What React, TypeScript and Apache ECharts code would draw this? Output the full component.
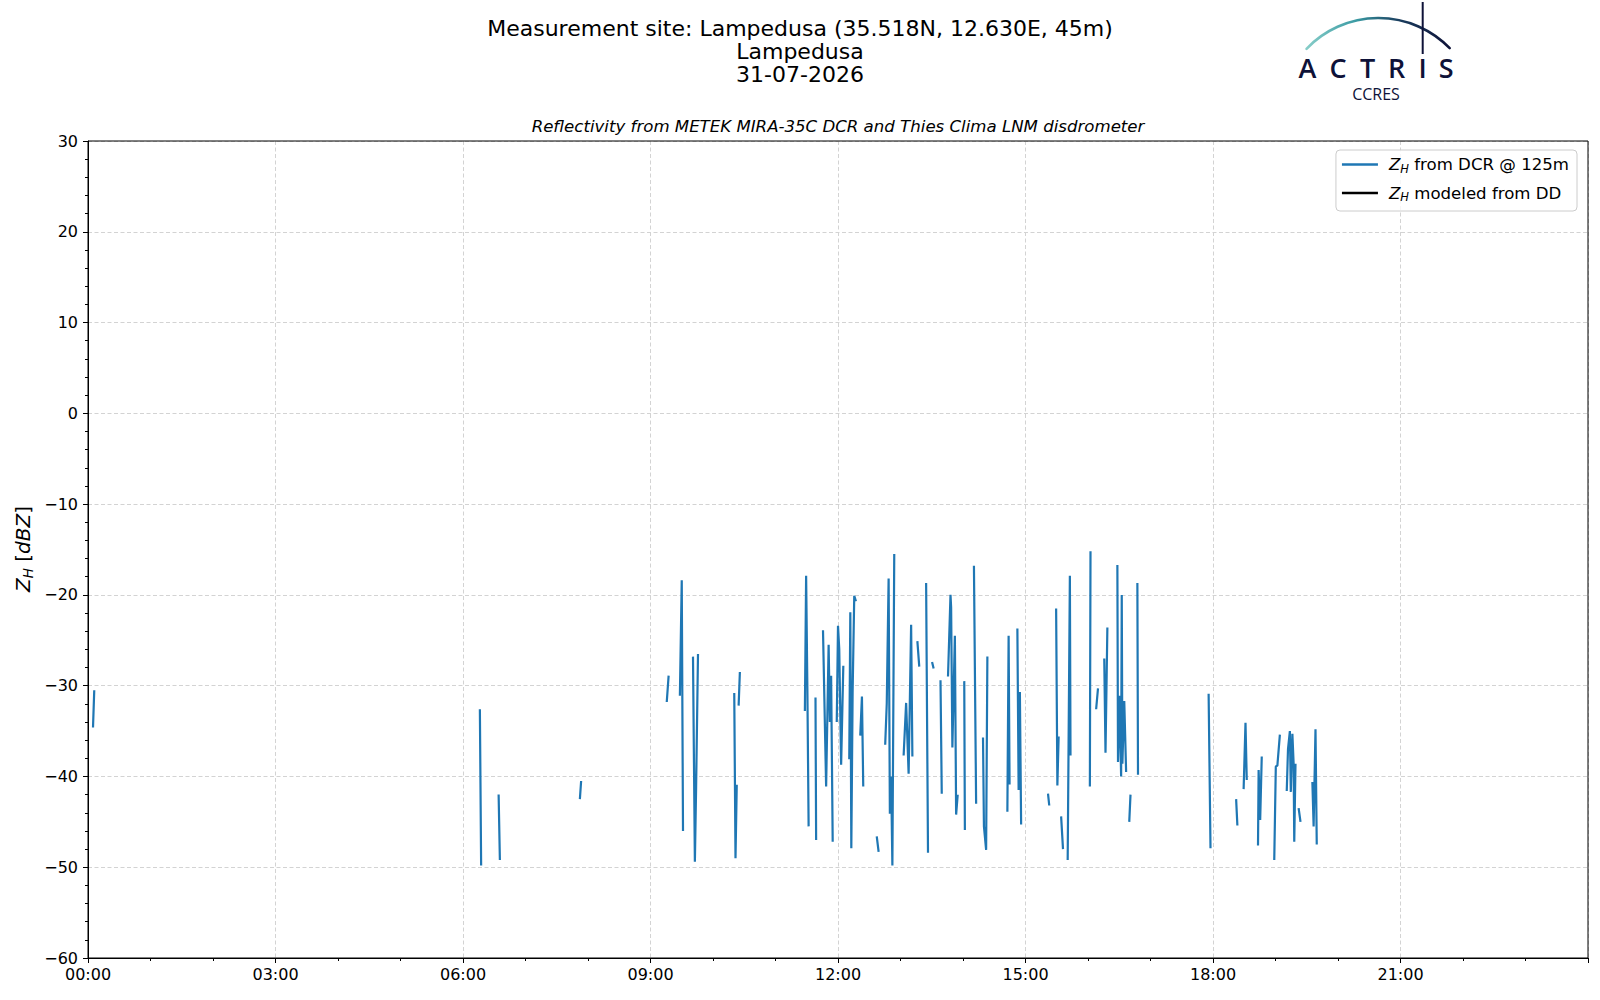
import React, { useEffect, useRef } from "react";
import * as echarts from "echarts";

// Title texts
const titleLines = ["Measurement site: Lampedusa (35.518N, 12.630E, 45m)", "Lampedusa", "31-07-2026"];
const subTitle = "Reflectivity from METEK MIRA-35C DCR and Thies Clima LNM disdrometer";
const seriesNames = ["ZH from DCR @ 125m", "ZH modeled from DD"];
const legendTails = [" from DCR @ 125m", " modeled from DD"];
const seriesColors = ["#1f77b4", "#000000"];

// x tick labels (hours of day)
const xTickLabels = ["00:00", "03:00", "06:00", "09:00", "12:00", "15:00", "18:00", "21:00"];

// DCR reflectivity: time in hours, null = gap
const dcrHours = [
  0.08, 0.10, null,
  6.27, 6.29, null,
  6.57, 6.59, null,
  7.87, 7.89, null,
  9.26, 9.29, null,
  9.47, 9.50, 9.52, null,
  9.68, 9.71, 9.73, 9.76, null,
  10.34, 10.36, 10.38, null,
  10.41, 10.43, null,
  11.47, 11.49, 11.51, 11.53, null,
  11.64, 11.65, null,
  11.76, 11.81, 11.85, 11.87, 11.89, 11.915, null,
  11.98, 12.0, 12.02, 12.05, 12.085, null,
  12.18, 12.197, 12.213, 12.234, 12.26, 12.287, null,
  12.356, 12.383, 12.404, null,
  12.62, 12.65, null,
  12.755, 12.78, 12.81, 12.83, 12.85, 12.87, 12.9, null,
  13.05, 13.09, 13.13, 13.17, 13.19, null,
  13.27, 13.30, null,
  13.41, 13.44, null,
  13.505, 13.53, null,
  13.64, 13.66, null,
  13.76, 13.80, 13.81, 13.83, 13.87, 13.89, 13.915, null,
  14.02, 14.03, null,
  14.175, 14.21, null,
  14.32, 14.335, 14.37, 14.39, null,
  14.71, 14.73, 14.745, null,
  14.87, 14.89, 14.91, 14.93, null,
  15.36, 15.38, null,
  15.49, 15.51, 15.53, null,
  15.57, 15.60, null,
  15.675, 15.71, 15.72, null,
  16.03, 16.04, null,
  16.13, 16.16, null,
  16.26, 16.28, 16.31, null,
  16.47, 16.48, 16.505, 16.53, 16.54, 16.55, 16.58, 16.61, null,
  16.66, 16.68, null,
  16.79, 16.80, null,
  17.93, 17.96, null,
  18.37, 18.39, null,
  18.49, 18.52, 18.54, null,
  18.72, 18.73, 18.755, 18.78, null,
  18.98, 19.005, 19.03, 19.07, null,
  19.18, 19.20, 19.23, 19.245, 19.27, 19.29, 19.30, 19.32, null,
  19.37, 19.40, null,
  19.59, 19.61, 19.64, 19.66,
];
const dcrValues = [
  -34.6, -30.5, null,
  -32.6, -49.8, null,
  -42.0, -49.2, null,
  -42.5, -40.5, null,
  -31.8, -28.9, null,
  -31.1, -18.4, -46.0, null,
  -26.8, -49.4, -41.1, -26.5, null,
  -30.8, -49.0, -40.9, null,
  -32.2, -28.5, null,
  -32.8, -17.9, -30.4, -45.5, null,
  -31.3, -47.0, null,
  -23.9, -41.1, -25.5, -34.0, -28.9, -47.2, null,
  -34.0, -23.4, -26.0, -38.7, -27.8, null,
  -38.1, -21.9, -47.9, -30.7, -20.1, -20.7, null,
  -35.5, -31.2, -41.1, null,
  -46.6, -48.3, null,
  -36.5, -32.0, -18.2, -44.1, -40.0, -49.8, -15.5, null,
  -37.7, -31.9, -39.7, -23.3, -37.8, null,
  -25.1, -27.9, null,
  -18.7, -48.4, null,
  -27.4, -28.1, null,
  -29.4, -41.9, null,
  -29.0, -20.0, -21.4, -36.8, -24.5, -44.2, -42.0, null,
  -29.5, -45.9, null,
  -16.8, -43.0, null,
  -35.7, -45.5, -48.1, -26.8, null,
  -43.9, -24.5, -40.9, null,
  -23.7, -41.5, -30.7, -45.3, null,
  -41.9, -43.2, null,
  -21.5, -41.0, -35.6, null,
  -44.4, -48.0, null,
  -49.2, -17.9, -37.7, null,
  -41.1, -15.2, null,
  -32.6, -30.3, null,
  -27.0, -37.4, -23.6, null,
  -16.7, -38.4, -31.1, -40.0, -20.0, -38.6, -31.7, -39.5, null,
  -45.0, -42.0, null,
  -18.7, -39.8, null,
  -30.9, -47.9, null,
  -42.5, -45.4, null,
  -41.4, -34.1, -40.4, null,
  -47.6, -39.3, -44.8, -37.8, null,
  -49.2, -38.9, -38.8, -35.4, null,
  -41.6, -37.0, -35.0, -41.7, -35.3, -38.6, -47.2, -38.6, null,
  -43.5, -45.0, null,
  -40.6, -45.5, -34.8, -47.5,
];
// modeled series has no data on this day
const ddHours: number[] = [];
const ddValues: number[] = [];

const FONT = "DejaVu Sans";
const NAVY = "#0e1238";
const G_LEFT = 88, G_RIGHT = 12, G_TOP = 141, G_BOTTOM = 42;

export default function App() {
  const ref = useRef<HTMLDivElement>(null);
  useEffect(() => {
    if (!ref.current) return;
    const chart = echarts.init(ref.current, null, { renderer: "svg" });

    const dcrData: any[] = dcrHours.map((h, i) =>
      h === null ? [dcrHours[i - 1], null] : [h, dcrValues[i]]
    );
    const ddData: any[] = ddHours.map((h, i) => [h, ddValues[i]]);

    const LFS = 16.6;
    const richMath = {
      i: { fontStyle: "italic", fontSize: LFS, fontFamily: FONT, color: "#000", lineHeight: 20 },
      s: { fontStyle: "italic", fontSize: 11.5, fontFamily: FONT, color: "#000", lineHeight: 20, verticalAlign: "bottom" },
      n: { fontSize: LFS, fontFamily: FONT, color: "#000", lineHeight: 20 },
    };

    const option: any = {
      animation: false,
      backgroundColor: "#ffffff",
      grid: {
        left: G_LEFT, right: G_RIGHT, top: G_TOP, bottom: G_BOTTOM,
        show: false,
        containLabel: false, outerBoundsMode: "none",
      },
      legend: {
        orient: "vertical",
        right: 23,
        top: 150,
        data: seriesNames,
        icon: "rect",
        itemWidth: 36,
        itemHeight: 2.5,
        itemGap: 10,
        padding: [6, 8, 8, 6],
        borderColor: "#cccccc",
        borderWidth: 1,
        borderRadius: 4,
        backgroundColor: "rgba(255,255,255,0.8)",
        formatter: (name: string) => {
          const idx = seriesNames.indexOf(name);
          return "{i|Z}{s|H}{n|" + legendTails[idx] + "}";
        },
        textStyle: {
          fontFamily: FONT, fontSize: LFS, color: "#000", padding: [0, 0, 0, 6],
          rich: richMath,
        },
      },
      xAxis: {
        type: "value",
        min: 0, max: 24, interval: 3,
        axisLine: { show: true, onZero: false, lineStyle: { color: "#000", width: 1 } },
        axisTick: { show: true, inside: false, length: 5, lineStyle: { color: "#000" } },
        minorTick: { show: true, splitNumber: 3, length: 3, lineStyle: { color: "#000" } },
        axisLabel: {
          margin: 8, fontFamily: FONT, fontSize: 16, color: "#000",
          showMaxLabel: false,
          formatter: (v: number) => {
            const idx = Math.round(v / 3);
            return idx < xTickLabels.length ? xTickLabels[idx] : "";
          },
        },
        splitLine: { show: true, lineStyle: { color: "#d3d3d3", type: [4, 2.5], width: 1 } },
      },
      yAxis: {
        type: "value",
        min: -60, max: 30, interval: 10,
        axisLine: { show: true, onZero: false, lineStyle: { color: "#000", width: 1 } },
        axisTick: { show: true, inside: false, length: 5, lineStyle: { color: "#000" } },
        minorTick: { show: true, splitNumber: 5, length: 3, lineStyle: { color: "#000" } },
        axisLabel: {
          margin: 10, fontFamily: FONT, fontSize: 16, color: "#000",
          formatter: (v: number) => String(v).replace("-", "\u2212"),
        },
        splitLine: { show: true, lineStyle: { color: "#d3d3d3", type: [4, 2.5], width: 1 } },
      },
      series: [
        {
          name: seriesNames[0],
          type: "line",
          data: dcrData,
          showSymbol: false,
          symbol: "none",
          connectNulls: false,
          lineStyle: { color: seriesColors[0], width: 2.2 },
          itemStyle: { color: seriesColors[0] },
        },
        {
          name: seriesNames[1],
          type: "line",
          data: ddData,
          showSymbol: false,
          symbol: "none",
          lineStyle: { color: seriesColors[1], width: 2.2 },
          itemStyle: { color: seriesColors[1] },
        },
      ],
      graphic: [
        {
          type: "rect",
          z: 50,
          silent: true,
          shape: { x: G_LEFT, y: G_TOP, width: 1600 - G_LEFT - G_RIGHT, height: 1000 - G_TOP - G_BOTTOM },
          style: { fill: null, stroke: "#000", lineWidth: 1 },
        },
        ...titleLines.map((t, k) => ({
          type: "text",
          x: 800,
          y: 28.6 + k * 23,
          style: { text: t, fill: "#000", font: `22px "${FONT}"`, textAlign: "center", textVerticalAlign: "middle" },
        })),
        {
          type: "text",
          x: 838,
          y: 126,
          style: { text: subTitle, fill: "#000", font: `italic 16.6px "${FONT}"`, textAlign: "center", textVerticalAlign: "middle" },
        },
        {
          type: "text",
          x: 23,
          y: 549,
          rotation: Math.PI / 2,
          style: {
            text: "{i|Z}{s|H}{n| [}{i|dBZ}{n|]}",
            textAlign: "center",
            textVerticalAlign: "middle",
            rich: {
              i: { fontStyle: "italic", fontSize: 20, fontFamily: FONT, fill: "#000", lineHeight: 24 },
              s: { fontStyle: "italic", fontSize: 13.5, fontFamily: FONT, fill: "#000", lineHeight: 24, verticalAlign: "bottom" },
              n: { fontSize: 20, fontFamily: FONT, fill: "#000", lineHeight: 24 },
            },
          },
        },
        // ACTRIS logo
        {
          type: "arc",
          shape: { cx: 1378.4, cy: 117.3, r: 99.3, startAngle: -2.38, endAngle: -0.77, clockwise: true },
          style: {
            fill: null,
            lineWidth: 2.6,
            lineCap: "round",
            stroke: new echarts.graphic.LinearGradient(0, 0, 1, 0, [
              { offset: 0, color: "#86cdc8" },
              { offset: 0.35, color: "#3a9aa3" },
              { offset: 0.65, color: "#1a3d5e" },
              { offset: 1, color: NAVY },
            ]),
          },
        },
        {
          type: "line",
          shape: { x1: 1422.7, y1: 2, x2: 1422.7, y2: 54 },
          style: { stroke: NAVY, lineWidth: 2 },
        },
        ...["A", "C", "T", "R", "I", "S"].map((ch, k) => ({
          type: "text",
          x: [1307.5, 1338, 1367.5, 1396.7, 1422.7, 1446.2][k],
          y: 67.5,
          style: {
            text: ch, fill: NAVY, font: `600 27px "Open Sans"`,
            textAlign: "center", textVerticalAlign: "middle",
          },
        })),
        {
          type: "text",
          x: 1376,
          y: 93.5,
          style: { text: "CCRES", fill: NAVY, font: `16px "Open Sans"`, textAlign: "center", textVerticalAlign: "middle" },
        },
      ],
    };
    chart.setOption(option);
    return () => chart.dispose();
  }, []);
  return (
    <div
      ref={ref}
      style={{ position: "fixed", left: 0, top: 0, width: 1600, height: 1000, background: "#fff" }}
    />
  );
}
